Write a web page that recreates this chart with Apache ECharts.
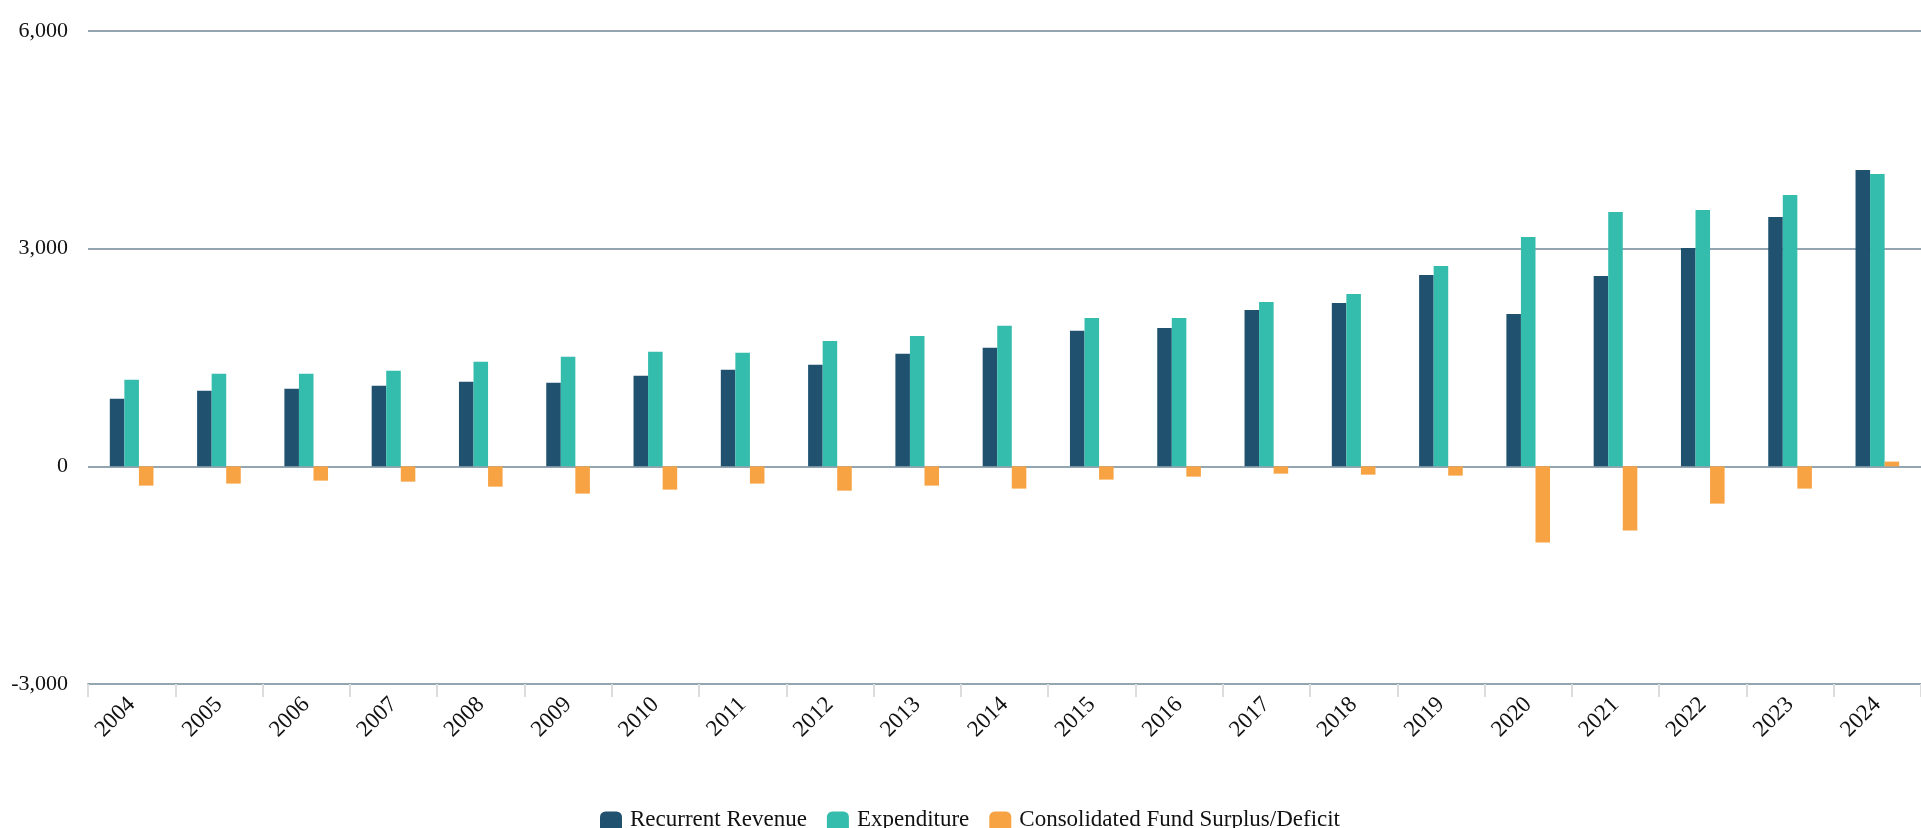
<!DOCTYPE html>
<html>
<head>
<meta charset="utf-8">
<script src="https://cdn.jsdelivr.net/npm/echarts@6/dist/echarts.min.js"></script>
<style>
html,body{margin:0;padding:0;background:#fff;}
#chart{width:1921px;height:828px;}
</style>
</head>
<body>
<div id="chart"></div>
<script>
const years = ['2004','2005','2006','2007','2008','2009','2010','2011','2012','2013','2014','2015','2016','2017','2018','2019','2020','2021','2022','2023','2024'];
const recurrentRevenue = [931,1041,1069,1111,1165,1152,1248,1330,1399,1550,1633,1867,1908,2156,2252,2637,2101,2624,3009,3436,4083];
const expenditure = [1193,1275,1275,1317,1440,1509,1578,1564,1729,1798,1936,2046,2046,2266,2376,2761,3161,3505,3532,3739,4028];
const surplusDeficit = [-266,-238,-197,-211,-280,-376,-321,-238,-335,-266,-307,-183,-142,-101,-115,-128,-1050,-885,-514,-307,65];
const seriesNames = ['Recurrent Revenue','Expenditure','Consolidated Fund Surplus/Deficit'];
const colors = ['#20526f','#34bcad','#f8a343'];

const chart = echarts.init(document.getElementById('chart'), null, {renderer:'canvas'});
const font = '"Liberation Serif", "Times New Roman", serif';
chart.setOption({
  animation:false,
  color: colors,
  grid:{left:88, right:-12, top:31, bottom:144, containLabel:false},
  legend:{
    left:595, top:803,
    icon:'roundRect', itemWidth:22, itemHeight:22, itemGap:20,
    formatter: name => '{t|' + name + '}',
    textStyle:{fontFamily:font, fontSize:23, color:'#111',
      rich:{t:{fontFamily:font, fontSize:23, color:'#111', padding:[0,0,6,3]}}},
    data: seriesNames
  },
  xAxis:{
    type:'category', data: years,
    axisLine:{show:true, onZero:false, lineStyle:{color:'#93a5b0', width:2}},
    axisTick:{show:true, length:13, lineStyle:{color:'#dcdcdc', width:2}},
    axisLabel:{rotate:45, margin:17, fontFamily:font, fontSize:23, color:'#111', interval:0}
  },
  yAxis:{
    type:'value', min:-3000, max:6000, interval:3000,
    axisLine:{show:false}, axisTick:{show:false},
    splitLine:{show:true, lineStyle:{color:'#93a5b0', width:2}},
    axisLabel:{margin:20, fontFamily:font, fontSize:22, color:'#111', padding:[0,0,10,0],
      formatter: v => v.toLocaleString('en-US')}
  },
  series:[
    {name:seriesNames[0], type:'bar', data:recurrentRevenue, barWidth:'16.67%', barGap:'0%'},
    {name:seriesNames[1], type:'bar', data:expenditure, barWidth:'16.67%', barGap:'0%'},
    {name:seriesNames[2], type:'bar', data:surplusDeficit, barWidth:'16.67%', barGap:'0%'}
  ]
});
</script>
</body>
</html>
